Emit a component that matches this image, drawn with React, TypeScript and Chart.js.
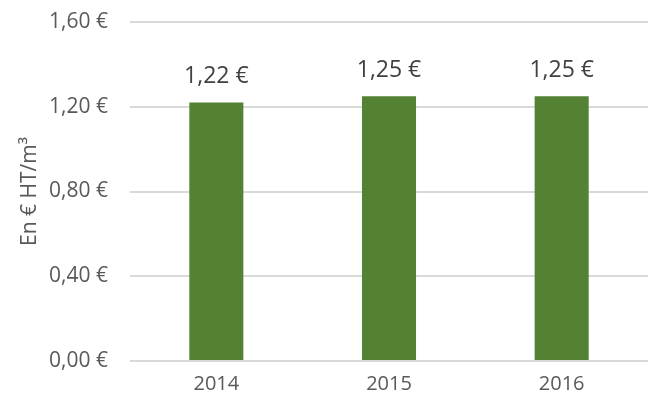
import React, { useEffect, useRef } from "react";
import { Chart, registerables } from "chart.js";

Chart.register(...registerables);

const categories = ["2014", "2015", "2016"];
const prices = [1.22, 1.25, 1.25];
const yTicks = [0, 0.4, 0.8, 1.2, 1.6];
const yTitle = "En € HT/m³";

const fmt = (v: number) => v.toFixed(2).replace(".", ",") + " €";

const valueLabels = {
  id: "valueLabels",
  afterDatasetsDraw(chart: any) {
    const ctx = chart.ctx;
    const meta = chart.getDatasetMeta(0);
    ctx.save();
    ctx.font = "23px 'Open Sans'";
    ctx.fillStyle = "#404040";
    ctx.textAlign = "center";
    ctx.textBaseline = "middle";
    meta.data.forEach((bar: any, i: number) => {
      ctx.fillText(fmt(prices[i]), bar.x, bar.y - 26);
    });
    ctx.restore();
  },
};

export default function App() {
  const ref = useRef<HTMLCanvasElement>(null);
  useEffect(() => {
    document.body.style.margin = "0";
    const chart = new Chart(ref.current!, {
      type: "bar",
      data: {
        labels: categories,
        datasets: [
          {
            data: prices,
            backgroundColor: "#548235",
            barPercentage: 0.313,
            categoryPercentage: 1,
          },
        ],
      },
      options: {
        animation: false,
        responsive: false,
        maintainAspectRatio: false,
        layout: { padding: { top: 22, right: 9, left: 0, bottom: 0 } },
        plugins: { legend: { display: false }, tooltip: { enabled: false } },
        scales: {
          x: {
            grid: { display: false, drawTicks: false },
            border: { display: false },
            ticks: { color: "#595959", font: { family: "'Open Sans'", size: 20 }, padding: 11 },
            afterFit: (s: any) => {
              s.height = 44;
            },
          },
          y: {
            min: 0,
            max: 1.6,
            afterBuildTicks: (s: any) => {
              s.ticks = yTicks.map((v) => ({ value: v }));
            },
            grid: { color: "#d9d9d9", lineWidth: 2, drawTicks: false },
            border: { display: false },
            ticks: {
              color: "#595959",
              font: { family: "'Open Sans'", size: 21 },
              padding: 22,
              callback: (v: any) => fmt(Number(v)),
            },
            title: {
              display: true,
              text: yTitle,
              color: "#595959",
              font: { family: "'Open Sans'", size: 21 },
              padding: { top: 17, bottom: 0 },
            },
            afterFit: (s: any) => {
              s.width = 130;
              s.paddingTop = 0;
              s.paddingBottom = 0;
            },
          },
        },
      },
      plugins: [valueLabels],
    });
    return () => chart.destroy();
  }, []);
  return (
    <div style={{ width: 657, height: 405 }}>
      <canvas ref={ref} width={657} height={405} style={{ width: 657, height: 405, display: "block" }} />
    </div>
  );
}
